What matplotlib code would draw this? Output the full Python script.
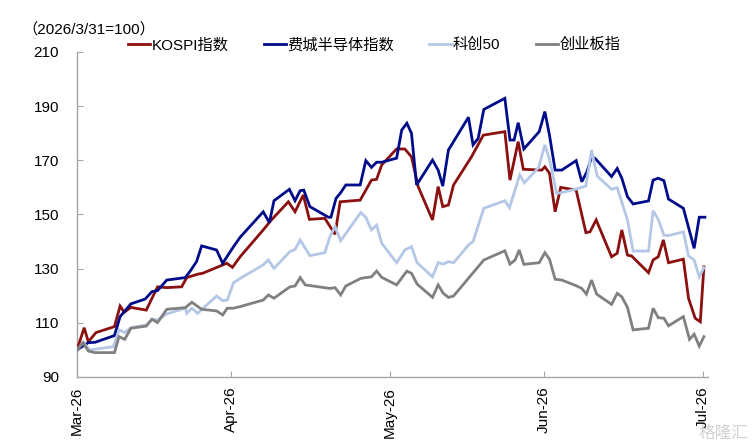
import numpy as np
import pandas as pd
import matplotlib
matplotlib.use('Agg')
import matplotlib.pyplot as plt
import matplotlib.dates as mdates

plt.rcParams['font.family'] = ['Liberation Sans', 'Noto Sans CJK SC']

base = pd.Timestamp('2026-03-31')

# day offsets from 2026/3/31 and index values
kospi_days = [0, 1.4, 2.2, 3.7, 7.3, 8.4, 9.2, 10.5, 13.5, 15.7, 17.5, 20.4, 21.4, 23.6, 24.5,
              29.2, 30.3, 31.8, 36.3, 37.9, 41.2, 42.5, 44.1, 45.3, 48.3, 50.3, 51.3, 55.2,
              57.4, 58.4, 59.4, 62.3, 63.9, 65.2, 66.5, 69.3, 70.4, 71.3, 72.4, 73.4, 76.9,
              79.2, 83.4, 84.4, 86.0, 87.0, 90.6, 91.2, 92.1, 93.2, 94.3, 97.3, 99.2, 100.0,
              101.2, 104.2, 105.3, 106.2, 107.3, 108.1, 111.4, 112.3, 113.3, 114.3, 115.3,
              118.2, 119.2, 120.5, 121.5, 122.2]
kospi = [100, 108.2, 103.0, 106.4, 108.6, 116.2, 113.9, 115.7, 114.7, 123.3, 123.0, 123.3, 126.7,
         128.0, 128.3, 132.0, 130.5, 134.4, 144.3, 148.0, 154.7, 151.0, 157.2, 148.2, 148.6,
         142.7, 154.7, 155.3, 162.7, 163.0, 168.3, 174.2, 174.2, 171.3, 160.3, 148.0, 160.3,
         152.9, 153.5, 160.9, 171.3, 179.3, 180.6, 162.7, 176.9, 166.7, 166.4, 167.6, 165.2,
         151.0, 160.0, 159.0, 143.3, 143.6, 148.0, 134.4, 135.7, 144.3, 135.0, 134.7, 128.5,
         133.2, 134.4, 140.6, 132.2, 133.5, 119.1, 111.7, 110.4, 130.7]

sox_days = [0, 2.2, 3.5, 7.3, 8.4, 10.5, 13.3, 14.6, 15.7, 17.5, 21.1, 22.1, 23.3, 24.3, 27.2,
            28.4, 30.5, 31.8, 36.3, 37.5, 38.4, 41.4, 42.5, 43.5, 44.2, 45.4, 49.0, 49.5, 50.5,
            51.3, 52.4, 55.2, 56.3, 57.4, 58.4, 59.4, 62.3, 63.3, 64.3, 65.2, 66.2, 69.3, 70.4,
            71.3, 72.4, 76.3, 77.2, 78.2, 79.3, 83.4, 84.4, 85.2, 86.0, 87.1, 90.1, 91.2, 92.1,
            93.2, 94.5, 97.3, 98.4, 99.4, 100.3, 101.0, 104.2, 105.3, 106.2, 107.3, 108.4,
            111.4, 112.3, 113.3, 114.4, 115.3, 118.2, 120.3, 121.3, 122.4]
sox = [100, 102.7, 102.8, 105.3, 112.3, 117.0, 118.8, 121.5, 121.9, 125.8, 126.7, 129.2, 132.6,
       138.4, 136.9, 132.0, 138.1, 141.6, 151.0, 147.0, 155.1, 159.3, 155.1, 158.8, 159.0,
       152.9, 149.0, 149.0, 156.0, 157.8, 160.9, 160.9, 169.9, 167.4, 169.3, 169.3, 170.8,
       181.2, 183.7, 180.0, 160.9, 170.1, 166.4, 160.5, 173.8, 185.9, 175.7, 178.1, 188.8,
       192.9, 177.5, 177.5, 183.9, 174.2, 180.6, 188.0, 179.3, 166.4, 166.4, 169.9, 162.1,
       165.8, 171.1, 170.7, 164.0, 167.0, 163.4, 156.6, 153.9, 155.0, 162.7, 163.4, 162.5,
       155.7, 152.3, 137.5, 149.0, 149.0]

star_days = [0, 1.2, 2.5, 7.1, 8.2, 9.3, 10.5, 13.5, 14.6, 15.7, 17.5, 21.1, 21.4, 22.4, 23.5,
             27.2, 28.4, 29.3, 30.5, 31.8, 36.3, 37.3, 38.4, 41.5, 42.5, 43.5, 45.4, 48.3, 49.3,
             50.3, 51.4, 55.3, 56.3, 57.4, 58.4, 59.4, 62.3, 63.9, 65.2, 66.3, 69.3, 70.4, 71.4,
             72.4, 73.4, 76.5, 77.2, 79.3, 83.4, 84.3, 86.3, 87.2, 90.0, 91.2, 92.1, 93.5, 94.5,
             97.3, 99.2, 100.3, 101.4, 104.2, 105.3, 107.3, 108.4, 111.4, 112.3, 113.3, 114.4,
             115.3, 118.2, 119.2, 120.3, 121.3, 122.2]
star = [100, 102.7, 100.0, 101.2, 107.4, 106.4, 108.2, 109.2, 111.4, 111.0, 113.3, 115.4, 113.5,
        115.4, 113.5, 119.9, 118.2, 118.4, 124.8, 126.4, 131.4, 133.2, 130.1, 136.3, 137.1,
        140.6, 134.8, 135.9, 141.8, 145.5, 140.3, 150.7, 149.0, 144.3, 146.1, 139.4, 132.2,
        136.9, 138.1, 132.2, 127.0, 132.2, 131.7, 132.6, 132.2, 139.1, 140.0, 152.3, 155.1,
        152.5, 164.6, 161.7, 167.4, 175.7, 170.4, 157.8, 158.1, 159.4, 160.5, 173.8, 164.2,
        159.3, 159.9, 148.0, 136.5, 136.5, 151.4, 148.2, 142.4, 142.2, 143.6, 134.7, 133.2,
        127.0, 130.4]

cyb_days = [0, 1.2, 2.2, 3.5, 7.3, 8.2, 9.3, 10.5, 13.5, 14.6, 15.7, 17.5, 21.1, 22.4, 24.3,
            27.2, 28.4, 29.3, 30.5, 31.8, 36.3, 37.3, 38.4, 41.5, 42.5, 43.5, 44.5, 49.3, 50.3,
            51.4, 52.4, 55.3, 56.3, 57.4, 58.4, 59.4, 62.3, 64.3, 65.2, 66.3, 69.3, 70.4, 71.4,
            72.4, 73.4, 79.3, 83.4, 84.4, 85.4, 86.2, 87.1, 90.1, 91.2, 92.1, 93.2, 94.5, 97.3,
            98.4, 99.3, 100.3, 101.3, 104.2, 105.3, 106.2, 107.3, 108.4, 111.4, 112.3, 113.3,
            114.4, 115.3, 118.2, 119.4, 120.3, 121.3, 122.2]
cyb = [100, 102.7, 99.6, 99.0, 99.0, 104.9, 103.9, 108.0, 108.8, 111.3, 110.1, 115.0, 115.6,
       117.6, 115.0, 114.4, 112.9, 115.4, 115.4, 116.0, 118.4, 120.3, 119.1, 123.3, 123.6,
       126.7, 124.0, 122.7, 123.0, 120.3, 123.6, 126.4, 126.7, 127.0, 129.1, 126.8, 124.0,
       129.1, 128.3, 124.3, 119.4, 124.0, 120.9, 119.4, 119.9, 133.2, 136.6, 131.7, 133.2,
       136.9, 131.6, 132.2, 135.9, 133.5, 126.1, 125.8, 123.7, 122.7, 120.6, 125.8, 120.6,
       116.8, 120.9, 119.6, 115.7, 107.4, 108.0, 115.4, 111.9, 111.7, 108.9, 112.3, 103.9,
       105.8, 101.4, 104.9]

names = ['KOSPI指数', '费城半导体指数', '科创50', '创业板指']
colors = ['#8B1010', '#000C8A', '#B4C7E7', '#808080']


def to_dates(days):
    return base + pd.to_timedelta(np.array(days), unit='D')


fig = plt.figure(figsize=(7.54, 4.48), dpi=100)
ax = fig.add_axes([77 / 754, 1 - 377 / 448, (708 - 77) / 754, (377 - 52) / 448])

series = [(kospi_days, kospi), (sox_days, sox), (star_days, star), (cyb_days, cyb)]
# draw light lines first so the dark ones sit on top
for idx in [3, 2, 0, 1]:
    d, v = series[idx]
    ax.plot(to_dates(d), v, color=colors[idx], linewidth=2.0, label=names[idx],
            zorder=3 + idx, solid_joinstyle='miter')

ax.set_ylim(90, 210)
ax.set_yticks(np.arange(90, 211, 20))
ax.set_xlim(base, base + pd.Timedelta(days=123))
tick_dates = pd.to_datetime(['2026-03-31', '2026-04-30', '2026-05-31', '2026-06-30', '2026-07-31'])
ax.set_xticks(tick_dates)
ax.xaxis.set_major_formatter(mdates.DateFormatter('%b-%y'))

for s in ['top', 'right']:
    ax.spines[s].set_visible(False)
for s in ['left', 'bottom']:
    ax.spines[s].set_color('#A6A6A6')
    ax.spines[s].set_linewidth(1.0)

ax.tick_params(axis='both', direction='in', length=4, color='#A6A6A6', labelsize=11)
ax.tick_params(axis='y', pad=13)
ax.tick_params(axis='x', pad=7)
for lab in ax.get_xticklabels():
    lab.set_rotation(90)
    lab.set_va('top')
    lab.set_ha('center')

handles, labels = ax.get_legend_handles_labels()
order = [labels.index(n) for n in names]
fig.legend([handles[i] for i in order], [labels[i] for i in order],
           loc='center left', bbox_to_anchor=(128 / 754, 1 - 45 / 448), ncol=4,
           frameon=False, fontsize=11, handlelength=1.45, handletextpad=0.1,
           columnspacing=2.3, borderpad=0, borderaxespad=0)

fig.text(22 / 754, 1 - 29 / 448, '（2026/3/31=100）', fontsize=11, va='center', ha='left')
fig.text(748 / 754, 1 - 433 / 448, '格隆汇', fontsize=12, color='#D0D0D0',
         ha='right', va='center')

fig.savefig('out.png', dpi=100)
